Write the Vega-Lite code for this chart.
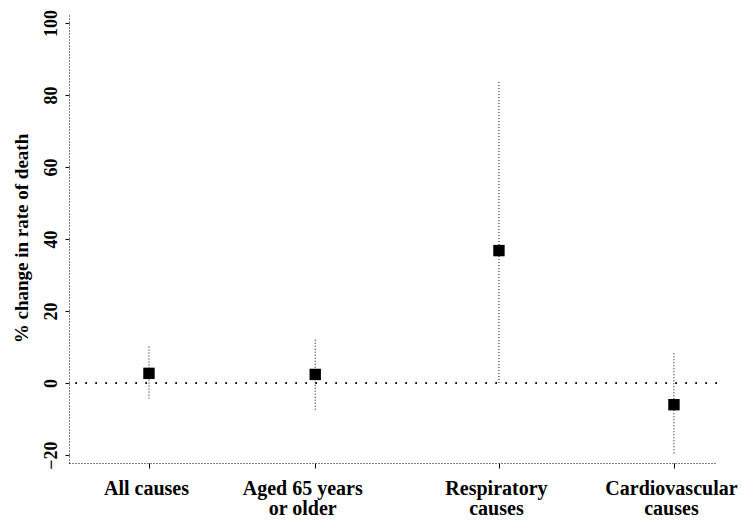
{
  "$schema": "https://vega.github.io/schema/vega-lite/v6.json",
  "autosize": "none",
  "width": 648,
  "height": 450,
  "padding": {"left": 69, "top": 13, "right": 25, "bottom": 58},
  "background": "white",
  "config": {
    "view": {"stroke": null},
    "axis": {
      "labelFont": "Liberation Serif",
      "titleFont": "Liberation Serif",
      "labelFontWeight": "bold",
      "titleFontWeight": "bold",
      "labelColor": "black",
      "titleColor": "black",
      "domainColor": "black",
      "tickColor": "black",
      "domainDash": [1, 2],
      "grid": false
    }
  },
  "data": {
    "values": [
      {"cause": "All causes", "pos": 1, "est": 2.7, "lo": -4.3, "hi": 10.4},
      {"cause": "Aged 65 years or older", "pos": 1.95, "est": 2.4, "lo": -7.4, "hi": 12.6},
      {"cause": "Respiratory causes", "pos": 3, "est": 36.8, "lo": 0, "hi": 84},
      {"cause": "Cardiovascular causes", "pos": 4, "est": -6.0, "lo": -19.5, "hi": 8.8}
    ]
  },
  "layer": [
    {
      "mark": {"type": "rule", "color": "black", "strokeWidth": 1, "strokeDash": [1.5, 8.5]},
      "encoding": {"y": {"datum": 0, "type": "quantitative"}}
    },
    {
      "mark": {"type": "rule", "color": "black", "strokeWidth": 1, "strokeDash": [1, 2]},
      "encoding": {
        "x": {
          "field": "pos",
          "type": "quantitative",
          "scale": {"domain": [0.543, 4.246], "nice": false, "zero": false},
          "axis": {
            "title": null,
            "values": [1, 1.95, 3, 4],
            "labelExpr": "datum.value == 1 ? 'All causes' : datum.value == 1.95 ? ['Aged 65 years', 'or older'] : datum.value == 3 ? ['Respiratory', 'causes'] : ['Cardiovascular', 'causes']",
            "labelOffset": {"condition": {"test": "datum.value == 1.95", "value": -13}, "value": -3},
            "labelFontSize": 20,
            "labelLineHeight": 20,
            "labelPadding": 10,
            "tickSize": 5,
            "labelBaseline": "top"
          }
        },
        "y": {
          "field": "lo",
          "type": "quantitative",
          "scale": {"domain": [-22.2, 102.8], "nice": false, "zero": false},
          "axis": {
            "title": "% change in rate of death",
            "values": [-20, 0, 20, 40, 60, 80, 100],
            "labelAngle": -90,
            "labelAlign": "center",
            "labelBaseline": "bottom",
            "labelFontSize": 18,
            "labelPadding": 5,
            "tickSize": 4,
            "titleFontSize": 19,
            "titlePadding": 11
          }
        },
        "y2": {"field": "hi"}
      }
    },
    {
      "mark": {"type": "point", "shape": "square", "filled": true, "color": "black", "size": 130, "opacity": 1},
      "encoding": {
        "x": {"field": "pos", "type": "quantitative"},
        "y": {"field": "est", "type": "quantitative"}
      }
    }
  ]
}
